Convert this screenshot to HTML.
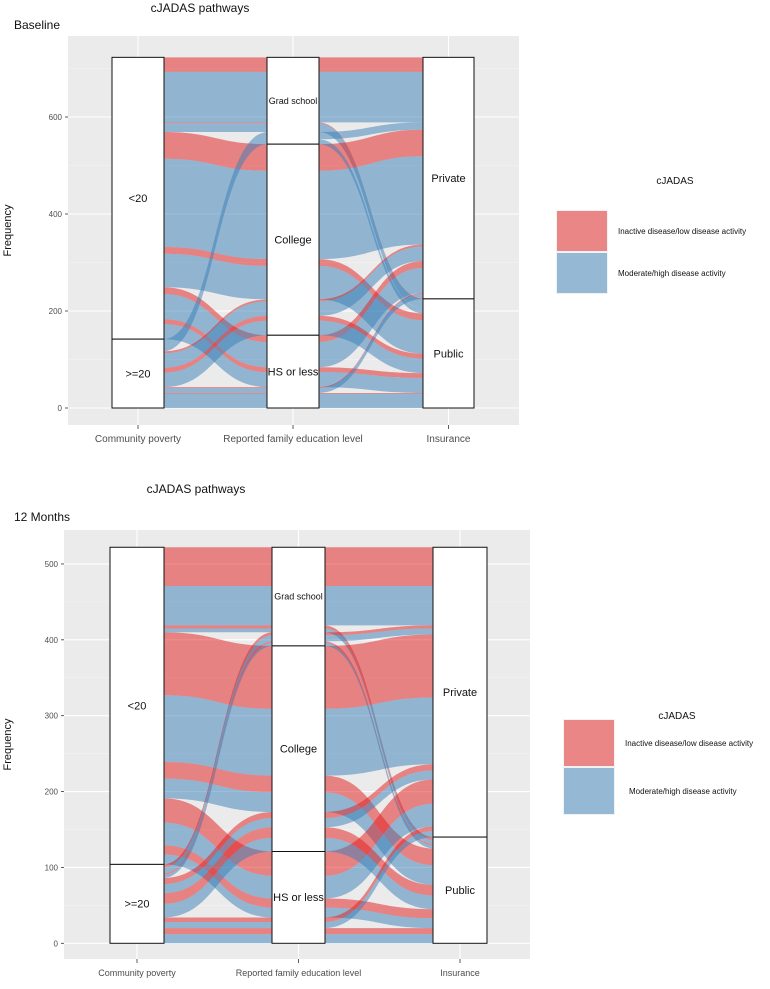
<!DOCTYPE html>
<html><head><meta charset="utf-8"><style>
body{margin:0;background:#fff;width:770px;height:989px;overflow:hidden;font-family:"Liberation Sans",sans-serif;}
svg{position:absolute;left:0;top:0;}
</style></head><body>
<svg id="chart" width="770" height="989" xmlns="http://www.w3.org/2000/svg" font-family="Liberation Sans, sans-serif"></svg>
<script>
// Category labels
const povCats = ["<20", ">=20"];
const eduCats = ["Grad school", "College", "HS or less"];
const insCats = ["Private", "Public"];
const fillCats = ["Inactive disease/low disease activity", "Moderate/high disease activity"];
// Counts ordered as pov x edu x ins x fill (nested)
const baselineCounts = [30,104, 2,18, 55,182, 14,69, 14,52, 10,31,
                        0,15, 0,10, 4,30, 10,30, 2,10, 2,29];
const monthCounts = [51,52, 4,5, 83,88, 22,26, 32,30, 12,13,
                     4,8, 2,4, 8,12, 14,18, 6,8, 8,12];
const baselineTicks = [0,200,400,600];
const monthTicks = [0,100,200,300,400,500];
const axisTitles = ["Community poverty", "Reported family education level", "Insurance"];

const NS = "http://www.w3.org/2000/svg";
const svg = document.getElementById('chart');
function mk(tag, attrs, parent, txt){
  const el = document.createElementNS(NS, tag);
  for (const k in attrs) el.setAttribute(k, attrs[k]);
  if (txt !== undefined) el.textContent = txt;
  (parent || svg).appendChild(el);
  return el;
}
const fillColors = ["rgba(228,26,28,0.5)", "rgba(55,126,184,0.5)"];

function drawChart(cfg, counts, ticks){
  const g = mk('g', {});
  
  
  const y = v => cfg.y0 - v * cfg.k;
  const bg = mk('rect', {x:cfg.px0, y:cfg.py0, width:cfg.px1-cfg.px0, height:cfg.py1-cfg.py0, fill:'#EBEBEB'}, g);
  
  
  const step = ticks[1]-ticks[0];
  for (let i=0;i<ticks.length;i++){
    const minor = ticks[i] + step/2;
    if (y(minor) > cfg.py0) mk('line',{x1:cfg.px0,x2:cfg.px1,y1:y(minor),y2:y(minor),stroke:'#F5F5F5','stroke-width':0.6},g);
    const gl = mk('line',{x1:cfg.px0,x2:cfg.px1,y1:y(ticks[i]),y2:y(ticks[i]),stroke:'#fff','stroke-width':1.1},g);
    
    
    mk('line',{x1:cfg.px0-3,x2:cfg.px0,y1:y(ticks[i]),y2:y(ticks[i]),stroke:'#333','stroke-width':0.8},g);
    const tl = mk('text',{x:cfg.px0-6,y:y(ticks[i])+3,'font-size':8,fill:'#4D4D4D','text-anchor':'end'},g,ticks[i]);
    
    
  }
  cfg.ax.forEach((a,i)=>{
    const cx=(a[0]+a[1])/2;
    mk('line',{x1:cx,x2:cx,y1:cfg.py0,y2:cfg.py1,stroke:'#fff','stroke-width':1.1},g);
    mk('line',{x1:cx,x2:cx,y1:cfg.py1,y2:cfg.py1+4,stroke:'#333','stroke-width':0.8},g);
    const t = mk('text',{x:cx,y:cfg.py1+17,'font-size':cfg.axfs,fill:'#4D4D4D','text-anchor':'middle'},g,axisTitles[i]);
    
    
  });
  const al=[];
  let idx=0, T=0;
  for (let p=0;p<2;p++) for (let e=0;e<3;e++) for (let s=0;s<2;s++) for (let f=0;f<2;f++){
    const n=counts[idx++]; T+=n;
    if (n>0) al.push({p,e,s,f,n,pos:[0,0,0]});
  }
  const keys=[a=>[a.p,a.e,a.s,a.f], a=>[a.e,a.p,a.s,a.f], a=>[a.s,a.e,a.p,a.f]];
  const strataTotals=[[0,0],[0,0,0],[0,0]];
  const stratOf=[a=>a.p,a=>a.e,a=>a.s];
  al.forEach(a=>{for(let k=0;k<3;k++) strataTotals[k][stratOf[k](a)]+=a.n;});
  for (let k=0;k<3;k++){
    const sorted=al.slice().sort((a,b)=>{const ka=keys[k](a),kb=keys[k](b);for(let i=0;i<ka.length;i++){if(ka[i]!==kb[i])return ka[i]-kb[i];}return 0;});
    let c=0; sorted.forEach(a=>{a.pos[k]=c;c+=a.n;});
  }
  al.forEach(a=>{
    for (let k=0;k<2;k++){
      const x0=cfg.ax[k][1], x1=cfg.ax[k+1][0], xm=(x0+x1)/2;
      const t0=y(T-a.pos[k]), b0=y(T-a.pos[k]-a.n), t1=y(T-a.pos[k+1]), b1=y(T-a.pos[k+1]-a.n);
      const fl = mk('path',{d:`M${x0-1},${t0}C${xm},${t0} ${xm},${t1} ${x1+1},${t1}L${x1+1},${b1}C${xm},${b1} ${xm},${b0} ${x0-1},${b0}Z`,fill:fillColors[a.f]},g);
      
      
    }
  });
  const labels=[povCats,eduCats,insCats];
  for (let k=0;k<3;k++){
    let c=0;
    strataTotals[k].forEach((n,si)=>{
      const yt=y(T-c), yb=y(T-c-n); c+=n;
      const r = mk('rect',{x:cfg.ax[k][0],y:yt,width:cfg.ax[k][1]-cfg.ax[k][0],height:yb-yt,fill:'#fff',stroke:'#111','stroke-width':1},g);
      
      
      const lab=labels[k][si];
      const fs = lab==='Grad school'?cfg.gfs:cfg.sfs;
      const t = mk('text',{x:(cfg.ax[k][0]+cfg.ax[k][1])/2,y:(yt+yb)/2+fs*0.35,'font-size':fs,fill:'#111','text-anchor':'middle'},g,lab);
      
      
    });
  }
  const tt = mk('text',{x:cfg.titleX,y:cfg.titleY,'font-size':12,fill:'#111','text-anchor':'middle'},g,'cJADAS pathways');
  
  
  const st = mk('text',{x:cfg.subX,y:cfg.subY,'font-size':12,fill:'#111'},g,cfg.sub);
  
  
  const yl = mk('text',{x:0,y:0,'font-size':11,fill:'#111','text-anchor':'middle',transform:`translate(${cfg.ylX},${(cfg.py0+cfg.py1)/2}) rotate(-90)`},g,'Frequency');
  
  
  const lg = mk('g',{},g);
  
  
  mk('text',{x:cfg.lgTitleX,y:cfg.lgTitleY,'font-size':10,fill:'#111','text-anchor':'middle'},lg,'cJADAS');
  fillCats.forEach((lab,i)=>{
    const yy=cfg.lgY+i*cfg.lgH;
    mk('rect',{x:cfg.lgX,y:yy,width:cfg.lgW,height:cfg.lgH,fill:'#F2F2F2'},lg);
    const kr = mk('rect',{x:cfg.lgX+1,y:yy+1,width:cfg.lgW-2,height:cfg.lgH-2,fill:fillColors[i]},lg);
    
    
    const lt = mk('text',{x:cfg.lgX+cfg.lgW+(i===0?10:cfg.lgT2),y:yy+cfg.lgH/2+3,'font-size':8,fill:'#111'},lg,lab);
    
    
  });
}

drawChart({name:'baseline-chart', y0:408, k:0.485, px0:68, px1:519, py0:36, py1:425,
  ax:[[112,164],[267,319],[423,474]], axfs:10, sfs:11, gfs:9,
  titleX:200, titleY:12, sub:'Baseline', subX:14, subY:29, ylX:11,
  lgTitleX:675, lgTitleY:184, lgX:556, lgY:210, lgW:52, lgH:42, lgT2:10}, baselineCounts, baselineTicks);

drawChart({name:'twelve-month-chart', y0:943.3, k:0.7587, px0:64, px1:530, py0:530, py1:959,
  ax:[[110,164],[272,325],[433,487]], axfs:9, sfs:11, gfs:9,
  titleX:196, titleY:493, sub:'12 Months', subX:14, subY:521, ylX:11,
  lgTitleX:677, lgTitleY:719, lgX:563, lgY:719, lgW:52, lgH:48, lgT2:14}, monthCounts, monthTicks);
</script>
</body></html>
